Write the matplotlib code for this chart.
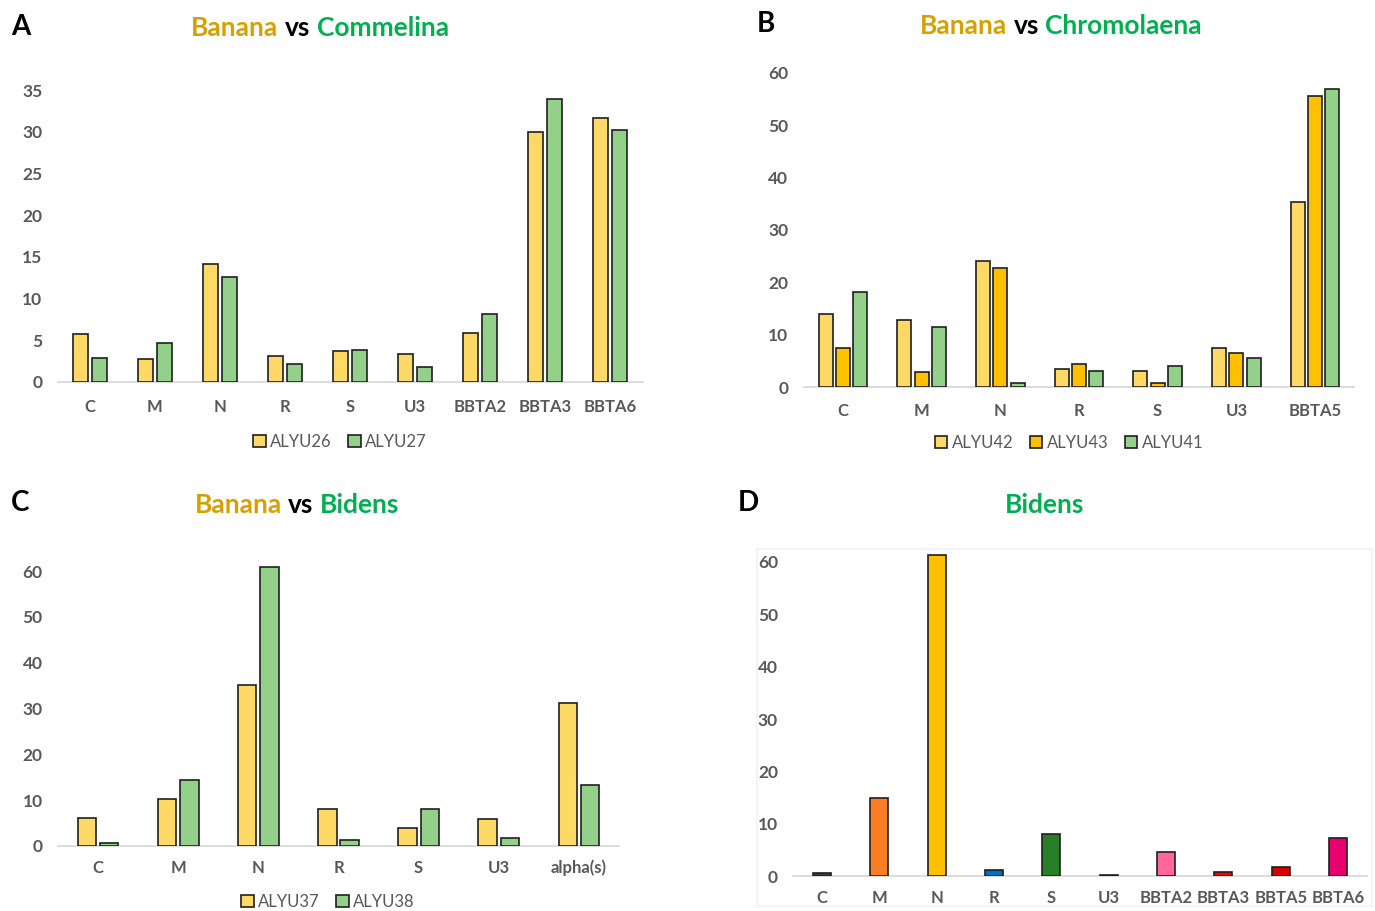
import matplotlib
matplotlib.use("Agg")
import matplotlib.pyplot as plt
from matplotlib.patches import Patch, Rectangle
import numpy as np

W, H = 1375, 911
plt.rcParams['font.family'] = ['Lato', 'DejaVu Sans']

# ---- data -----------------------------------------------------------------
a_categories = ["C", "M", "N", "R", "S", "U3", "BBTA2", "BBTA3", "BBTA6"]
a_alyu26 = [5.8, 2.7, 14.2, 3.1, 3.7, 3.35, 5.9, 29.95, 31.7]
a_alyu27 = [2.9, 4.65, 12.6, 2.2, 3.8, 1.85, 8.2, 33.9, 30.2]

b_categories = ["C", "M", "N", "R", "S", "U3", "BBTA5"]
b_alyu42 = [14.0, 12.8, 24.15, 3.4, 3.2, 7.55, 35.3]
b_alyu43 = [7.55, 2.9, 22.75, 4.4, 0.75, 6.6, 55.5]
b_alyu41 = [18.25, 11.5, 0.75, 3.2, 4.05, 5.6, 56.95]

c_categories = ["C", "M", "N", "R", "S", "U3", "alpha(s)"]
c_alyu37 = [6.05, 10.2, 35.2, 8.0, 4.0, 5.8, 31.2]
c_alyu38 = [0.6, 14.4, 60.9, 1.3, 8.0, 1.8, 13.4]

d_categories = ["C", "M", "N", "R", "S", "U3", "BBTA2", "BBTA3", "BBTA5", "BBTA6"]
d_values = [0.55, 14.9, 61.3, 1.15, 8.0, 0.3, 4.7, 0.8, 1.85, 7.3]

# ---- style ----------------------------------------------------------------
LIGHT_YELLOW = "#FFD966"
ORANGE_YELLOW = "#FFC000"
LIGHT_GREEN = "#93D18B"
EDGE = "#1F1F1F"
TICK_GRAY = "#595959"
BANANA = "#D6A000"
PLANT = "#00B050"
D_COLORS = ["#404040", "#FB7D24", "#FFC000", "#0070C0", "#267F26",
            "#595959", "#FF6699", "#FF0000", "#D90000", "#E8006F"]

fig = plt.figure(figsize=(W / 100, H / 100), dpi=100)
fig.patch.set_facecolor("white")


def make_axes(left, right, y0, yref, ref_val, ymax, xpad=10):
    """Axes placed by pixel box; y0 is pixel of zero, yref pixel of ref_val."""
    per_unit = (y0 - yref) / ref_val
    top = y0 - per_unit * ymax
    ax = fig.add_axes([left / W, 1 - y0 / H, (right - left) / W, (y0 - top) / H])
    ax.set_ylim(0, ymax)
    for s in ("top", "right", "left"):
        ax.spines[s].set_visible(False)
    ax.spines["bottom"].set_color("#D9D9D9")
    ax.spines["bottom"].set_linewidth(1.3)
    ax.tick_params(axis="both", length=0, colors=TICK_GRAY, labelsize=12)
    ax.tick_params(axis="y", pad=11)
    ax.tick_params(axis="x", pad=xpad)
    ax.set_facecolor("none")
    return ax


def style_ticks(ax, cats, yticks):
    ax.set_xticks(np.arange(len(cats)))
    ax.set_xticklabels(cats, fontweight="bold", color=TICK_GRAY, fontsize=12)
    ax.set_yticks(yticks)
    ax.set_yticklabels([str(t) for t in yticks], fontweight="bold",
                       color=TICK_GRAY, fontsize=12.5)
    ax.set_xlim(-0.5, len(cats) - 0.5)


def colored_title(x_center, y, parts, size=19):
    renderer = fig.canvas.get_renderer()
    texts = []
    for s, c in parts:
        t = fig.text(0, 1 - y / H, s, color=c, fontsize=size, fontweight="bold",
                     va="center", ha="left")
        texts.append(t)
    space = fig.text(0, 0, "a a", fontsize=size, fontweight="bold")
    noso = fig.text(0, 0, "aa", fontsize=size, fontweight="bold")
    gap = (space.get_window_extent(renderer).width
           - noso.get_window_extent(renderer).width)
    space.remove()
    noso.remove()
    widths = [t.get_window_extent(renderer).width for t in texts]
    total = sum(widths) + gap * (len(texts) - 1)
    x = x_center - total / 2
    for t, w in zip(texts, widths):
        t.set_x(x / W)
        x += w + gap


def panel_letter(x, y, s):
    fig.text(x / W, 1 - y / H, s, fontsize=20, fontweight="bold",
             color="black", ha="center", va="center")


def square_legend(x, y, labels, colors):
    handles = [Patch(facecolor=c, edgecolor=EDGE, linewidth=1.2) for c in colors]
    leg = fig.legend(handles, labels, loc="center", bbox_to_anchor=(x / W, 1 - y / H),
                     ncol=len(labels), frameon=False, fontsize=12,
                     handlelength=0.75, handleheight=0.75, handletextpad=0.25,
                     columnspacing=1.0, borderaxespad=0)
    for t in leg.get_texts():
        t.set_color(TICK_GRAY)


bar_kw = dict(edgecolor=EDGE, linewidth=1.2, zorder=3)

# ---- A: Banana vs Commelina -------------------------------------------------
axA = make_axes(57.5, 642.5, 382, 90, 35, 35, xpad=12)
xa = np.arange(len(a_categories))
axA.bar(xa - 0.1425, a_alyu26, width=0.23, color=LIGHT_YELLOW, **bar_kw)
axA.bar(xa + 0.1425, a_alyu27, width=0.23, color=LIGHT_GREEN, **bar_kw)
style_ticks(axA, a_categories, list(range(0, 36, 5)))
square_legend(340, 442, ["ALYU26", "ALYU27"], [LIGHT_YELLOW, LIGHT_GREEN])
panel_letter(21, 27, "A")
colored_title(320, 28, [("Banana", BANANA), ("vs", "black"), ("Commelina", PLANT)])

# ---- B: Banana vs Chromolaena ----------------------------------------------
axB = make_axes(803.7, 1354.3, 387.3, 72.7, 60, 60, xpad=11)
xb = np.arange(len(b_categories))
axB.bar(xb - 0.222, b_alyu42, width=0.178, color=LIGHT_YELLOW, **bar_kw)
axB.bar(xb, b_alyu43, width=0.178, color=ORANGE_YELLOW, **bar_kw)
axB.bar(xb + 0.222, b_alyu41, width=0.178, color=LIGHT_GREEN, **bar_kw)
style_ticks(axB, b_categories, list(range(0, 61, 10)))
square_legend(1069, 443, ["ALYU42", "ALYU43", "ALYU41"],
              [LIGHT_YELLOW, ORANGE_YELLOW, LIGHT_GREEN])
panel_letter(766, 24, "B")
colored_title(1061, 26, [("Banana", BANANA), ("vs", "black"), ("Chromolaena", PLANT)])

# ---- C: Banana vs Bidens ---------------------------------------------------
axC = make_axes(57.9, 619.1, 846, 571, 60, 62, xpad=10)
xc = np.arange(len(c_categories))
axC.bar(xc - 0.14, c_alyu37, width=0.231, color=LIGHT_YELLOW, **bar_kw)
axC.bar(xc + 0.14, c_alyu38, width=0.231, color=LIGHT_GREEN, **bar_kw)
style_ticks(axC, c_categories, list(range(0, 61, 10)))
square_legend(328, 902, ["ALYU37", "ALYU38"], [LIGHT_YELLOW, LIGHT_GREEN])
panel_letter(20, 503, "C")
colored_title(297, 505, [("Banana", BANANA), ("vs", "black"), ("Bidens", PLANT)])

# ---- D: Bidens -------------------------------------------------------------
fig.patches.append(Rectangle((757 / W, 1 - 906 / H), (1372 - 757) / W, (906 - 549) / H,
                             transform=fig.transFigure, fill=False,
                             edgecolor="#F4F4F4", linewidth=1.6, zorder=0))
axD = make_axes(793.3, 1366.7, 876.3, 562, 60, 62, xpad=10)
xd = np.arange(len(d_categories))
axD.bar(xd, d_values, width=0.318, color=D_COLORS, **bar_kw)
style_ticks(axD, d_categories, list(range(0, 61, 10)))
panel_letter(748, 503, "D")
colored_title(1045, 505, [("Bidens", PLANT)])

fig.savefig("out.png", dpi=100, facecolor="white")
